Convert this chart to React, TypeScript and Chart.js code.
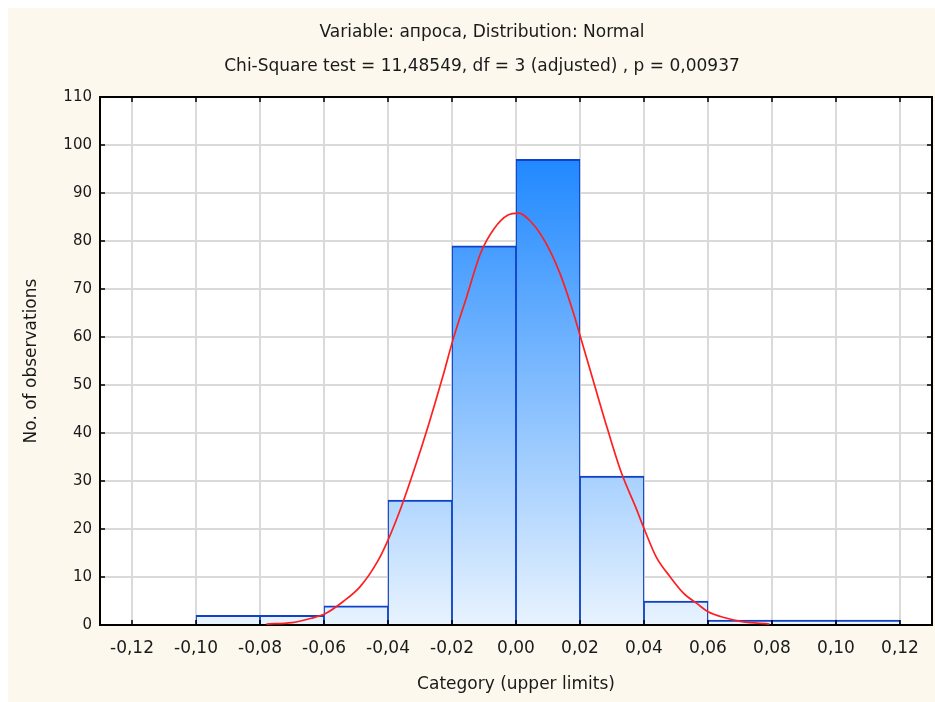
import React, { useEffect, useRef } from 'react';
import { Chart, registerables } from 'chart.js';

Chart.register(...registerables);

// Histogram bins (centres of the 0.02-wide bins) and counts
const binCenters = [-0.09, -0.07, -0.05, -0.03, -0.01, 0.01, 0.03, 0.05, 0.07, 0.09, 0.11];
const binCounts = [2, 2, 4, 26, 79, 97, 31, 5, 1, 1, 1];

// Fitted normal curve
const curveX = [-0.078, -0.070, -0.064, -0.0595, -0.054, -0.0487, -0.0433, -0.040, -0.0358, -0.0315, -0.0272, -0.0229, -0.0197, -0.0154, -0.0111, -0.0068, -0.0025, 0.0008, 0.0051, 0.0094, 0.0137, 0.018, 0.0198, 0.0244, 0.0287, 0.033, 0.0373, 0.0402, 0.0438, 0.0481, 0.0524, 0.0567, 0.0599, 0.0653, 0.0706, 0.0792];
const curveY = [0.2, 0.5, 1.4, 2.4, 4.9, 8.0, 13.2, 17.7, 24.7, 33.0, 42.0, 51.7, 59.4, 68.4, 77.4, 82.6, 85.4, 85.8, 83.7, 79.5, 73.3, 64.9, 60.8, 50.3, 40.6, 31.6, 24.7, 19.8, 14.2, 10.1, 6.6, 4.4, 2.8, 1.5, 0.7, 0.2];

const xTickValues = [-0.12, -0.10, -0.08, -0.06, -0.04, -0.02, 0, 0.02, 0.04, 0.06, 0.08, 0.10, 0.12];
const xTickLabels = ['-0,12', '-0,10', '-0,08', '-0,06', '-0,04', '-0,02', '0,00', '0,02', '0,04', '0,06', '0,08', '0,10', '0,12'];
const yTickValues = [0, 10, 20, 30, 40, 50, 60, 70, 80, 90, 100, 110];
const yTickLabels = ['0', '10', '20', '30', '40', '50', '60', '70', '80', '90', '100', '110'];

const titleLines = [
  'Variable: апроса, Distribution: Normal',
  'Chi-Square test = 11,48549, df = 3 (adjusted) , p = 0,00937',
];
const xTitle = 'Category (upper limits)';
const yTitle = 'No. of observations';

const FONT_FAMILY = '"DejaVu Sans", "Liberation Sans", Arial, sans-serif';
const TEXT_COLOR = '#1a1a1a';

const framePlugin = {
  id: 'statFrame',
  beforeDraw(chart: any) {
    const { ctx, chartArea: a, width, height } = chart;
    ctx.save();
    ctx.fillStyle = '#fdf8ee';
    ctx.fillRect(0, 0, width, height);
    ctx.fillStyle = '#ffffff';
    ctx.fillRect(a.left, a.top, a.right - a.left, a.bottom - a.top);
    ctx.restore();
  },
  afterDatasetDraw(chart: any, args: any) {
    if (args.meta.type !== 'bar') return;
    const { ctx, chartArea: a, scales } = chart;
    ctx.save();
    ctx.strokeStyle = '#000000';
    ctx.lineWidth = 2;
    ctx.strokeRect(a.left, a.top, a.right - a.left, a.bottom - a.top);
    ctx.lineWidth = 1.5;
    ctx.beginPath();
    const tl = 5;
    xTickValues.forEach((v) => {
      const px = scales.x.getPixelForValue(v);
      ctx.moveTo(px, a.bottom);
      ctx.lineTo(px, a.bottom - tl);
      ctx.moveTo(px, a.top);
      ctx.lineTo(px, a.top + tl);
    });
    yTickValues.forEach((v) => {
      const py = scales.y.getPixelForValue(v);
      ctx.moveTo(a.left, py);
      ctx.lineTo(a.left + tl, py);
      ctx.moveTo(a.right, py);
      ctx.lineTo(a.right - tl, py);
    });
    ctx.stroke();
    ctx.restore();
  },
  afterDraw(chart: any) {
    const { ctx } = chart;
    ctx.save();
    ctx.fillStyle = TEXT_COLOR;
    ctx.font = `17px ${FONT_FAMILY}`;
    ctx.textAlign = 'center';
    ctx.textBaseline = 'middle';
    ctx.fillText(titleLines[0], 474, 25);
    ctx.fillText(titleLines[1], 474, 59);
    ctx.restore();
  },
};

export default function App() {
  const canvasRef = useRef<HTMLCanvasElement | null>(null);

  useEffect(() => {
    if (!canvasRef.current) return;
    const bigFont = { family: FONT_FAMILY, size: 17 };
    const yFont = { family: FONT_FAMILY, size: 15 };

    const barGradient = (c: any) => {
      const chart = c.chart;
      const { ctx, chartArea, scales } = chart;
      if (!chartArea || !scales.y) return '#8ec3fb';
      const yTop = scales.y.getPixelForValue(100);
      const yBot = scales.y.getPixelForValue(0);
      const g = ctx.createLinearGradient(0, yTop, 0, yBot);
      g.addColorStop(0, '#1a85ff');
      g.addColorStop(1, '#e8f3fe');
      return g;
    };

    const chart = new Chart(canvasRef.current, {
      type: 'bar',
      data: {
        datasets: [
          {
            type: 'line',
            label: 'Normal',
            data: curveX.map((x, i) => ({ x, y: curveY[i] })),
            borderColor: '#ff1f1f',
            borderWidth: 1.7,
            pointRadius: 0,
            cubicInterpolationMode: 'monotone',
            fill: false,
            order: 0,
          } as any,
          {
            type: 'bar',
            label: 'Counts',
            data: binCenters.map((x, i) => ({ x, y: binCounts[i] })),
            backgroundColor: barGradient,
            borderColor: '#0f42c8',
            borderWidth: { top: 2, left: 1.25, right: 1.25, bottom: 0 },
            borderSkipped: false,
            barPercentage: 1,
            categoryPercentage: 1,
            grouped: false,
            order: 1,
          } as any,
        ],
      },
      options: {
        animation: false,
        responsive: false,
        maintainAspectRatio: false,
        layout: { padding: { top: 89, right: 3, left: 0, bottom: 0 } },
        plugins: {
          legend: { display: false },
          title: { display: false },
          tooltip: { enabled: false },
        },
        scales: {
          x: {
            type: 'linear',
            min: -0.13,
            max: 0.13,
            offset: false,
            afterBuildTicks: (s: any) => {
              s.ticks = xTickValues.map((v) => ({ value: v }));
            },
            afterFit: (s: any) => {
              s.height = 77;
            },
            grid: { color: '#dadada', lineWidth: 2, drawTicks: false, offset: false },
            border: { display: false },
            ticks: {
              font: bigFont,
              color: TEXT_COLOR,
              padding: 13,
              maxRotation: 0,
              autoSkip: false,
              callback: (_v: any, i: number) => xTickLabels[i],
            },
            title: {
              display: true,
              text: xTitle,
              font: bigFont,
              color: TEXT_COLOR,
              padding: { top: 0, bottom: 7 },
            },
          },
          y: {
            type: 'linear',
            min: 0,
            max: 110,
            afterBuildTicks: (s: any) => {
              s.ticks = yTickValues.map((v) => ({ value: v }));
            },
            afterFit: (s: any) => {
              s.width = 92;
            },
            grid: { color: '#dadada', lineWidth: 2, drawTicks: false },
            border: { display: false },
            ticks: {
              font: yFont,
              color: TEXT_COLOR,
              padding: 8,
              autoSkip: false,
              callback: (_v: any, i: number) => yTickLabels[i],
            },
            title: {
              display: true,
              text: yTitle,
              font: bigFont,
              color: TEXT_COLOR,
              padding: { top: 13, bottom: 0 },
            },
          },
        },
      } as any,
      plugins: [framePlugin],
    });

    return () => chart.destroy();
  }, []);

  return (
    <div style={{ position: 'fixed', left: 8, top: 8, width: 927, height: 694 }}>
      <canvas ref={canvasRef} width={927} height={694} style={{ display: 'block' }} />
    </div>
  );
}
